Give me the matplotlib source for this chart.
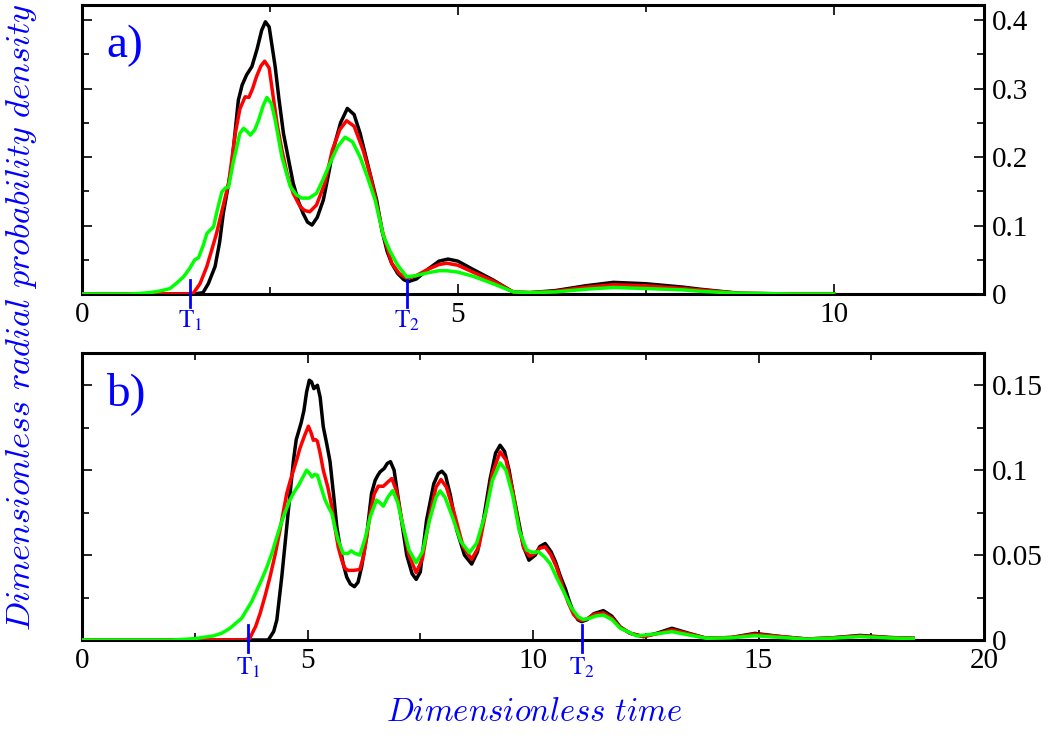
import matplotlib
matplotlib.use("Agg")
import matplotlib.pyplot as plt
from matplotlib.ticker import MultipleLocator
from matplotlib.transforms import blended_transform_factory

# ---------------- data ----------------
# panel a)
a_black_x = [0, 1.5, 1.61, 1.68, 1.77, 1.83, 1.88, 1.94, 1.99, 2.04, 2.08, 2.13, 2.19, 2.26, 2.33, 2.39,
             2.44, 2.49, 2.57, 2.62, 2.68, 2.75, 2.81, 2.88, 2.94, 3.00, 3.06, 3.13, 3.21, 3.28, 3.34,
             3.44, 3.53, 3.62, 3.70, 3.80, 3.92, 3.99, 4.06, 4.12, 4.20, 4.28, 4.34, 4.45, 4.6, 4.75,
             4.87, 5.0, 5.2, 5.47, 5.74, 5.96, 6.3, 6.7, 7.07, 7.5, 8.0, 8.22, 8.75, 9.5, 10.0]
a_black_y = [0, 0, 0.002, 0.015, 0.040, 0.075, 0.118, 0.155, 0.186, 0.240, 0.283, 0.305, 0.320, 0.332,
             0.358, 0.385, 0.3975, 0.390, 0.332, 0.285, 0.2346, 0.195, 0.1616, 0.135, 0.118, 0.105,
             0.1007, 0.112, 0.137, 0.175, 0.210, 0.250, 0.271, 0.262, 0.2346, 0.190, 0.137, 0.093,
             0.062, 0.0448, 0.030, 0.021, 0.018, 0.022, 0.036, 0.048, 0.051, 0.048, 0.036, 0.0204,
             0.0025, 0.002, 0.005, 0.012, 0.017, 0.015, 0.010, 0.007, 0.001, 0.0, 0.0]

a_red_x = [0, 1.4, 1.48, 1.57, 1.66, 1.72, 1.79, 1.87, 1.95, 2.04, 2.10, 2.17, 2.22, 2.27, 2.32, 2.38,
           2.43, 2.49, 2.55, 2.60, 2.66, 2.73, 2.81, 2.90, 2.96, 3.03, 3.12, 3.23, 3.33, 3.43, 3.52,
           3.62, 3.74, 3.83, 3.91, 4.00, 4.12, 4.22, 4.32, 4.45, 4.6, 4.75, 4.85, 5.0, 5.2, 5.47,
           5.74, 5.96, 6.3, 6.7, 7.07, 7.5, 8.0, 8.22, 8.75, 9.5, 10.0]
a_red_y = [0, 0, 0.001, 0.015, 0.040, 0.062, 0.0886, 0.125, 0.1616, 0.2346, 0.270, 0.288, 0.287,
           0.300, 0.317, 0.333, 0.340, 0.330, 0.283, 0.245, 0.210, 0.175, 0.147, 0.128, 0.122,
           0.120, 0.130, 0.1616, 0.210, 0.240, 0.253, 0.245, 0.210, 0.175, 0.137, 0.090, 0.045,
           0.030, 0.023, 0.027, 0.036, 0.043, 0.045, 0.042, 0.032, 0.019, 0.003, 0.002, 0.004,
           0.010, 0.0135, 0.012, 0.008, 0.006, 0.001, 0.0, 0.0]

a_green_x = [0, 0.6, 0.73, 0.9, 1.04, 1.17, 1.26, 1.35, 1.43, 1.50, 1.55, 1.61, 1.66, 1.70, 1.75,
             1.79, 1.86, 1.91, 1.95, 2.01, 2.10, 2.15, 2.20, 2.24, 2.30, 2.35, 2.41, 2.46, 2.52,
             2.57, 2.66, 2.77, 2.85, 2.92, 3.02, 3.12, 3.21, 3.30, 3.40, 3.50, 3.60, 3.70, 3.80,
             3.90, 4.01, 4.10, 4.20, 4.32, 4.45, 4.6, 4.75, 4.85, 5.0, 5.2, 5.47, 5.74, 5.96, 6.3,
             6.7, 7.07, 7.5, 8.0, 8.22, 8.75, 9.5, 10.0]
a_green_y = [0, 0, 0.0005, 0.002, 0.0044, 0.008, 0.016, 0.025, 0.037, 0.050, 0.053, 0.070, 0.088,
             0.093, 0.098, 0.118, 0.149, 0.155, 0.156, 0.191, 0.2346, 0.242, 0.237, 0.232, 0.240,
             0.254, 0.275, 0.287, 0.278, 0.254, 0.200, 0.157, 0.145, 0.140, 0.140, 0.147, 0.168,
             0.191, 0.215, 0.229, 0.222, 0.200, 0.170, 0.137, 0.085, 0.062, 0.042, 0.025, 0.027,
             0.031, 0.034, 0.034, 0.032, 0.026, 0.015, 0.003, 0.002, 0.003, 0.007, 0.0095, 0.008,
             0.006, 0.004, 0.001, 0.0, 0.0]

# panel b)
b_black_x = [0, 4.0, 4.13, 4.25, 4.32, 4.43, 4.54, 4.62, 4.69, 4.75, 4.80, 4.86, 4.92, 4.98, 5.04,
             5.09, 5.14, 5.18, 5.22, 5.28, 5.35, 5.43, 5.50, 5.58, 5.65, 5.72, 5.79, 5.87, 5.95,
             6.04, 6.12, 6.20, 6.31, 6.42, 6.50, 6.56, 6.61, 6.70, 6.77, 6.84, 6.92, 7.05, 7.20,
             7.32, 7.41, 7.50, 7.64, 7.80, 7.90, 7.98, 8.06, 8.17, 8.31, 8.48, 8.64, 8.77, 8.90,
             9.05, 9.17, 9.27, 9.37, 9.47, 9.56, 9.68, 9.79, 9.91, 10.05, 10.15, 10.27, 10.40,
             10.50, 10.60, 10.72, 10.82, 10.92, 11.0, 11.08, 11.2, 11.35, 11.56, 11.75, 11.93,
             12.15, 12.45, 12.75, 13.08, 13.45, 13.85, 14.4, 14.92, 15.5, 16.07, 16.6, 17.25,
             17.9, 18.43]
b_black_y = [0, 0, 0.0, 0.005, 0.0118, 0.0373, 0.0667, 0.088, 0.106, 0.118, 0.1225, 0.128, 0.135,
             0.146, 0.153, 0.152, 0.148, 0.149, 0.150, 0.143, 0.1255, 0.115, 0.105, 0.085, 0.0667,
             0.055, 0.045, 0.037, 0.033, 0.0314, 0.034, 0.043, 0.061, 0.0863, 0.094, 0.097,
             0.099, 0.101, 0.104, 0.105, 0.100, 0.0765, 0.050, 0.039, 0.0357, 0.040, 0.0706,
             0.092, 0.098, 0.0994, 0.097, 0.085, 0.0647, 0.050, 0.0447, 0.052, 0.0706, 0.095,
             0.110, 0.1147, 0.111, 0.100, 0.0863, 0.070, 0.0549, 0.047, 0.050, 0.055, 0.0568,
             0.052, 0.046, 0.038, 0.030, 0.0216, 0.015, 0.0118, 0.0108, 0.012, 0.0155, 0.0173,
             0.014, 0.0078, 0.004, 0.002, 0.004, 0.0069, 0.004, 0.001, 0.0015, 0.0039, 0.002,
             0.0006, 0.0012, 0.0027, 0.0015, 0.001]

b_red_x = [0, 3.6, 3.72, 3.85, 3.95, 4.06, 4.17, 4.28, 4.39, 4.46, 4.54, 4.62, 4.69, 4.76, 4.83,
           4.93, 5.02, 5.08, 5.13, 5.18, 5.22, 5.28, 5.35, 5.45, 5.54, 5.61, 5.68, 5.76, 5.83,
           5.90, 6.02, 6.16, 6.24, 6.31, 6.39, 6.48, 6.57, 6.68, 6.78, 6.87, 6.97, 7.09, 7.25,
           7.41, 7.55, 7.70, 7.85, 7.96, 8.08, 8.25, 8.45, 8.64, 8.80, 8.95, 9.10, 9.27, 9.40,
           9.55, 9.70, 9.80, 9.92, 10.05, 10.15, 10.27, 10.40, 10.52, 10.65, 10.78, 10.90, 11.0,
           11.08, 11.2, 11.35, 11.56, 11.75, 11.93, 12.15, 12.45, 12.75, 13.08, 13.45, 13.85,
           14.4, 14.92, 15.5, 16.07, 16.6, 17.25, 17.9, 18.43]
b_red_y = [0, 0, 0.001, 0.008, 0.0157, 0.026, 0.0373, 0.050, 0.0647, 0.075, 0.0863, 0.094, 0.100,
           0.106, 0.1127, 0.120, 0.1259, 0.122, 0.1176, 0.118, 0.117, 0.110, 0.100, 0.090,
           0.0784, 0.066, 0.0549, 0.047, 0.0422, 0.041, 0.041, 0.0415, 0.049, 0.060, 0.0745,
           0.086, 0.0906, 0.0905, 0.093, 0.0951, 0.088, 0.0706, 0.050, 0.0396, 0.048, 0.072,
           0.090, 0.0945, 0.090, 0.075, 0.055, 0.0475, 0.055, 0.075, 0.098, 0.1108, 0.106,
           0.088, 0.065, 0.054, 0.0494, 0.051, 0.054, 0.0549, 0.050, 0.043, 0.032, 0.022, 0.015,
           0.0125, 0.0115, 0.0125, 0.015, 0.016, 0.013, 0.0075, 0.004, 0.002, 0.0037, 0.006,
           0.0037, 0.001, 0.0015, 0.0034, 0.002, 0.0006, 0.0012, 0.0024, 0.0014, 0.001]

b_green_x = [0, 2.0, 2.5, 2.91, 3.1, 3.28, 3.54, 3.76, 3.98, 4.1, 4.21, 4.30, 4.39, 4.50, 4.61,
             4.70, 4.80, 4.90, 4.98, 5.05, 5.10, 5.16, 5.22, 5.30, 5.39, 5.47, 5.54, 5.61, 5.68,
             5.79, 5.90, 5.97, 6.05, 6.16, 6.28, 6.39, 6.53, 6.60, 6.68, 6.78, 6.89, 7.00, 7.12,
             7.25, 7.41, 7.55, 7.70, 7.85, 7.94, 8.05, 8.22, 8.40, 8.59, 8.75, 8.95, 9.10, 9.27,
             9.40, 9.55, 9.70, 9.86, 10.0, 10.12, 10.25, 10.38, 10.52, 10.67, 10.85, 11.0, 11.12,
             11.25, 11.4, 11.56, 11.75, 11.93, 12.3, 12.7, 13.08, 13.45, 13.85, 14.4, 14.92, 15.5,
             16.07, 16.6, 17.25, 17.9, 18.43]
b_green_y = [0, 0, 0.0008, 0.0024, 0.004, 0.0069, 0.0128, 0.0225, 0.0353, 0.043, 0.051, 0.059,
             0.0667, 0.075, 0.0824, 0.087, 0.091, 0.096, 0.100, 0.098, 0.096, 0.0975, 0.097,
             0.090, 0.0824, 0.078, 0.0745, 0.066, 0.0588, 0.051, 0.051, 0.0525, 0.051, 0.050,
             0.060, 0.0725, 0.0824, 0.081, 0.0788, 0.084, 0.088, 0.081, 0.0667, 0.053, 0.0455,
             0.052, 0.070, 0.084, 0.0878, 0.084, 0.072, 0.058, 0.0514, 0.057, 0.075, 0.094,
             0.1043, 0.100, 0.085, 0.064, 0.053, 0.0515, 0.052, 0.049, 0.045, 0.037, 0.029, 0.019,
             0.0137, 0.012, 0.0128, 0.0142, 0.0147, 0.012, 0.007, 0.0024, 0.0035, 0.0049, 0.003,
             0.001, 0.0013, 0.0025, 0.0015, 0.0005, 0.001, 0.002, 0.0012, 0.0008]

a_T = [1.44, 4.33]
b_T = [3.69, 11.09]
T_labels = ["1", "2"]
a_xticks = [0, 5, 10]
b_xticks = [0, 5, 10, 15, 20]
a_yticks = [0, 0.1, 0.2, 0.3, 0.4]
b_yticks = [0, 0.05, 0.1, 0.15]
a_ytick_labels = ["0", "0.1", "0.2", "0.3", "0.4"]
b_ytick_labels = ["0", "0.05", "0.1", "0.15"]

# ---------------- figure ----------------
BLUE = "#0000ff"
SERIF = "Liberation Serif"
plt.rcParams["font.family"] = [SERIF, "DejaVu Serif"]

fig = plt.figure(figsize=(10.55, 7.38), dpi=100)
W, H = 1055, 738
axA = fig.add_axes([82 / W, 1 - 294 / H, 902 / W, 289 / H])
axB = fig.add_axes([82 / W, 1 - 640 / H, 902 / W, 287 / H])

panels = [
    (axA, (a_black_x, a_black_y), (a_red_x, a_red_y), (a_green_x, a_green_y),
     12, 0.422, a_xticks, 2.5, a_yticks, a_ytick_labels, 0.05, a_T, "a)", 0.048, -0.045, -0.05),
    (axB, (b_black_x, b_black_y), (b_red_x, b_red_y), (b_green_x, b_green_y),
     20, 0.169, b_xticks, 2.5, b_yticks, b_ytick_labels, 0.025, b_T, "b)", 0.052, -0.042, -0.055),
]

for (ax, blk, red, grn, xmax, ymax, xt, xminor, yt, ytl, yminor, Ts, tag,
     t_top, t_bot, t_lab) in panels:
    ax.plot(*blk, color="black", lw=2.5, solid_joinstyle="round", zorder=3)
    ax.plot(*red, color="#ff0000", lw=2.5, solid_joinstyle="round", zorder=4)
    ax.plot(*grn, color="#00ff00", lw=2.5, solid_joinstyle="round", zorder=5)
    ax.set_xlim(0, xmax)
    ax.set_ylim(0, ymax)
    ax.set_xticks(xt)
    ax.set_xticklabels([str(v) for v in xt])
    ax.xaxis.set_minor_locator(MultipleLocator(xminor))
    ax.set_yticks(yt)
    ax.set_yticklabels(ytl)
    ax.yaxis.set_minor_locator(MultipleLocator(yminor))
    ax.tick_params(which="both", direction="in", top=True, bottom=True, left=True, right=True,
                   labelleft=False, labelright=True, labelsize=21, width=1.2, pad=6)
    ax.tick_params(which="major", length=7)
    ax.tick_params(which="minor", length=5)
    for lab in ax.get_xticklabels() + ax.get_yticklabels():
        lab.set_fontfamily(SERIF)
    for s in ax.spines.values():
        s.set_linewidth(2.2)
    # T markers
    tr = blended_transform_factory(ax.transData, ax.transAxes)
    for tx, tl in zip(Ts, T_labels):
        ax.plot([tx, tx], [t_top, t_bot], color=BLUE, lw=2.0, transform=tr, clip_on=False,
                zorder=6)
        ax.text(tx, t_lab, r"$\mathrm{T}_{%s}$" % tl, color=BLUE, fontsize=18, ha="left",
                va="top", transform=tr, math_fontfamily="stix").set_x(tx)
    ax.text(0.027, 0.82, tag, color=BLUE, fontsize=34, transform=ax.transAxes,
            ha="left", va="baseline", family=SERIF)

# center the T labels on the stem of the T
fig.canvas.draw()
for ax in (axA, axB):
    for t in ax.texts:
        if t.get_text().startswith(r"$\mathrm{T}"):
            t.set_ha("center")
            t.set_position((t.get_position()[0] + 0.0, t.get_position()[1]))

fig.text(534 / W, 1 - 713 / H, r"$\mathit{Dimensionless\ time}$", color=BLUE, fontsize=23.5,
         ha="center", va="center", math_fontfamily="cm")
fig.text(22 / W, 1 - 317 / H, r"$\mathit{Dimensionless\ radial\ probability\ density}$",
         color=BLUE, fontsize=24.8, ha="center", va="center", rotation=90, math_fontfamily="cm")

fig.savefig("out.png", dpi=100)
